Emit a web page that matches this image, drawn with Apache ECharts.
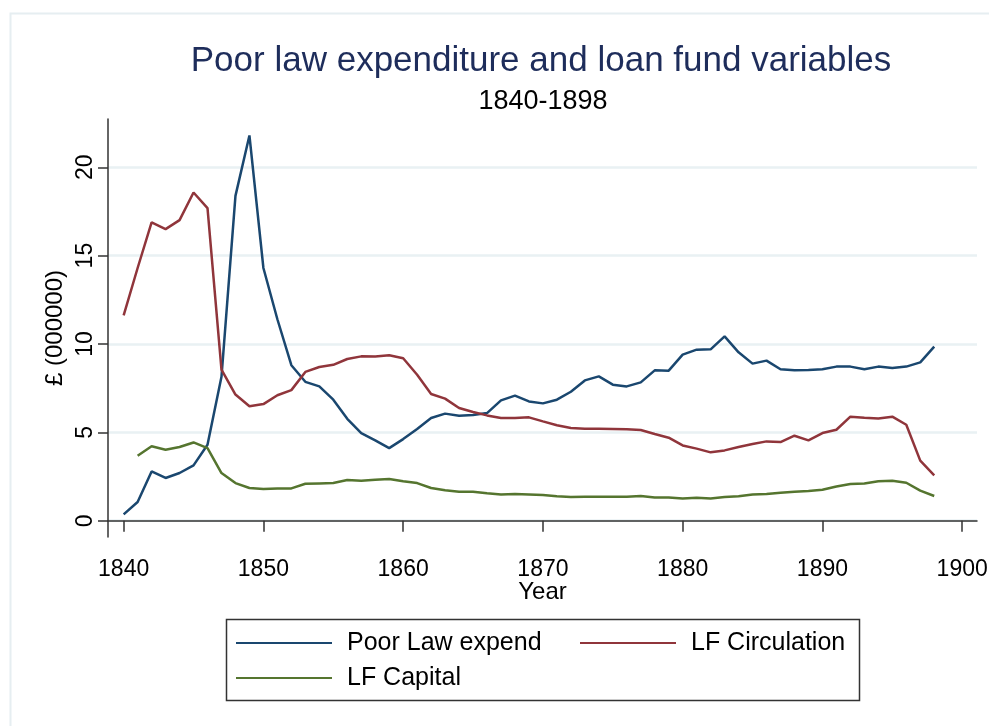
<!DOCTYPE html>
<html>
<head>
<meta charset="utf-8">
<script src="https://cdn.jsdelivr.net/npm/echarts@6/dist/echarts.min.js"></script>
<style>
html, body { margin: 0; padding: 0; background: #fff; }
#chart { width: 989px; height: 726px; }
</style>
</head>
<body>
<div id="chart"></div>
<script>
// values, one per year
var years = [
    1840, 1841, 1842, 1843, 1844, 1845, 1846, 1847, 1848, 1849,
    1850, 1851, 1852, 1853, 1854, 1855, 1856, 1857, 1858, 1859,
    1860, 1861, 1862, 1863, 1864, 1865, 1866, 1867, 1868, 1869,
    1870, 1871, 1872, 1873, 1874, 1875, 1876, 1877, 1878, 1879,
    1880, 1881, 1882, 1883, 1884, 1885, 1886, 1887, 1888, 1889,
    1890, 1891, 1892, 1893, 1894, 1895, 1896, 1897, 1898
];
var poorLaw = [
    0.36, 1.06, 2.79, 2.42, 2.70, 3.13, 4.30, 8.14, 18.38, 21.8,
    14.3, 11.4, 8.8, 7.86, 7.6, 6.85, 5.77, 4.96, 4.55, 4.11,
    4.62, 5.19, 5.81, 6.06, 5.94, 5.98, 6.09, 6.81, 7.08, 6.75,
    6.64, 6.85, 7.30, 7.94, 8.17, 7.70, 7.60, 7.83, 8.51, 8.49,
    9.40, 9.68, 9.70, 10.43, 9.53, 8.89, 9.06, 8.57, 8.51, 8.53,
    8.57, 8.72, 8.72, 8.57, 8.72, 8.64, 8.72, 8.96, 9.85
];
var lfCirculation = [
    11.62, 14.3, 16.88, 16.5, 17.01, 18.57, 17.69, 8.55, 7.14, 6.48,
    6.6, 7.1, 7.39, 8.42, 8.70, 8.82, 9.15, 9.30, 9.29, 9.36,
    9.19, 8.26, 7.17, 6.91, 6.38, 6.15, 5.96, 5.81, 5.81, 5.85,
    5.62, 5.40, 5.25, 5.21, 5.21, 5.19, 5.17, 5.13, 4.91, 4.70,
    4.26, 4.08, 3.87, 3.98, 4.17, 4.34, 4.49, 4.45, 4.81, 4.55,
    4.96, 5.15, 5.89, 5.83, 5.79, 5.89, 5.43, 3.40, 2.57
];
var lfCapital = [
    null, 3.68, 4.21, 4.02, 4.17, 4.43, 4.11, 2.70, 2.13, 1.85,
    1.79, 1.83, 1.83, 2.09, 2.11, 2.13, 2.30, 2.26, 2.32, 2.36,
    2.23, 2.13, 1.85, 1.72, 1.64, 1.64, 1.55, 1.49, 1.51, 1.49,
    1.45, 1.38, 1.34, 1.36, 1.36, 1.36, 1.36, 1.40, 1.32, 1.32,
    1.26, 1.30, 1.26, 1.34, 1.38, 1.49, 1.51, 1.58, 1.64, 1.68,
    1.75, 1.94, 2.08, 2.11, 2.23, 2.26, 2.15, 1.70, 1.40
];
var xTicks = [1840, 1850, 1860, 1870, 1880, 1890, 1900];
var yTicks = [0, 5, 10, 15, 20];

var names = ['Poor Law expend', 'LF Circulation', 'LF Capital'];
var colors = ['#1a476f', '#90353b', '#55752f'];

function pairs(vals) {
    var out = [];
    for (var i = 0; i < years.length; i++) {
        if (vals[i] !== null) out.push([years[i], vals[i]]);
    }
    return out;
}

var font = 'Liberation Sans';
var axisColor = '#333';

var dom = document.getElementById('chart');
var myChart = echarts.init(dom, null, { renderer: 'canvas' });

var legendText = { fontFamily: font, fontSize: 25, color: '#000', lineHeight: 28, padding: [0, 0, 0, 10] };
var legendBase = { padding: 0, icon: 'rect', itemWidth: 96, itemHeight: 2, textStyle: legendText };

var option = {
    animation: false,
    backgroundColor: '#fff',
    textStyle: { fontFamily: font },
    title: [
        {
            text: 'Poor law expenditure and loan fund variables',
            left: 541, top: 41, textAlign: 'center', padding: 0,
            textStyle: { fontFamily: font, fontSize: 35, fontWeight: 'normal', color: '#1e2d5b', lineHeight: 40 }
        },
        {
            text: '1840-1898',
            left: 543, top: 87, textAlign: 'center', padding: 0,
            textStyle: { fontFamily: font, fontSize: 27, fontWeight: 'normal', color: '#000', lineHeight: 30 }
        }
    ],
    legend: [
        Object.assign({ data: [names[0]], left: 236, top: 629 }, legendBase),
        Object.assign({ data: [names[1]], left: 580, top: 629 }, legendBase),
        Object.assign({ data: [names[2]], left: 236, top: 664 }, legendBase)
    ],
    grid: { left: 108, right: 12, top: 119, bottom: 189, containLabel: false, outerBoundsMode: 'none' },
    xAxis: {
        type: 'value',
        min: 1838.88,
        max: 1901.06,
        name: 'Year',
        nameLocation: 'middle',
        nameGap: 42,
        nameMoveOverlap: false,
        nameTextStyle: { fontFamily: font, fontSize: 24, color: '#000', lineHeight: 26 },
        axisLine: { lineStyle: { color: axisColor, width: 1.5 } },
        axisTick: { customValues: xTicks, length: 11, lineStyle: { color: axisColor, width: 1.5 } },
        axisLabel: {
            customValues: xTicks, fontFamily: font, fontSize: 23, color: '#000', margin: 21, lineHeight: 24,
            formatter: function (v) { return String(v); }
        },
        splitLine: { show: false }
    },
    yAxis: {
        type: 'value',
        min: -0.92,
        max: 22.73,
        name: '£ (000000)',
        nameLocation: 'middle',
        nameRotate: 90,
        nameGap: 40,
        nameMoveOverlap: false,
        nameTextStyle: { fontFamily: font, fontSize: 24, color: '#000', lineHeight: 26 },
        axisLine: { show: true, lineStyle: { color: axisColor, width: 1.5 } },
        axisTick: { show: true, customValues: yTicks, length: 10, lineStyle: { color: axisColor, width: 1.5 } },
        axisLabel: { customValues: yTicks, rotate: 90, fontFamily: font, fontSize: 23, color: '#000', margin: 10, lineHeight: 24 },
        splitLine: { show: true, lineStyle: { color: '#e9f1f3', width: 2.5 } }
    },
    graphic: [
        {
            type: 'rect', z: -10, silent: true,
            shape: { x: 10.5, y: 13.5, width: 1100, height: 900 },
            style: { fill: 'none', stroke: '#e6eef1', lineWidth: 2 }
        },
        {
            type: 'rect', silent: true,
            shape: { x: 226.5, y: 619.5, width: 633, height: 81 },
            style: { fill: 'none', stroke: '#333', lineWidth: 1.5 }
        }
    ],
    series: [
        { name: names[0], type: 'line', data: pairs(poorLaw), symbol: 'none', color: colors[0], lineStyle: { width: 2.5, color: colors[0] } },
        { name: names[1], type: 'line', data: pairs(lfCirculation), symbol: 'none', color: colors[1], lineStyle: { width: 2.5, color: colors[1] } },
        { name: names[2], type: 'line', data: pairs(lfCapital), symbol: 'none', color: colors[2], lineStyle: { width: 2.5, color: colors[2] } }
    ]
};

myChart.setOption(option);
</script>
</body>
</html>
